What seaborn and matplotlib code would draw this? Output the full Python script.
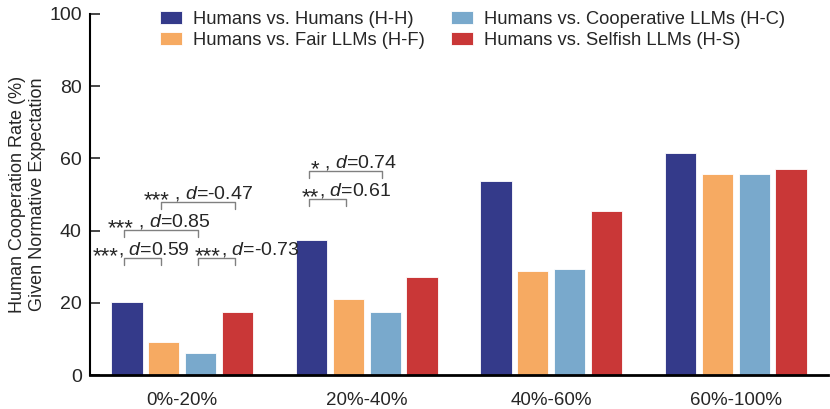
import matplotlib
matplotlib.use("Agg")
import matplotlib.pyplot as plt
import matplotlib.transforms as mtransforms
import seaborn as sns
import pandas as pd

categories = ["0%-20%", "20%-40%", "40%-60%", "60%-100%"]
series = ["Humans vs. Humans (H-H)", "Humans vs. Fair LLMs (H-F)",
          "Humans vs. Cooperative LLMs (H-C)", "Humans vs. Selfish LLMs (H-S)"]
hh = [20.2, 37.4, 53.7, 61.4]
hf = [9.1, 21.0, 28.8, 55.7]
hc = [6.1, 17.5, 29.4, 55.6]
hs = [17.5, 27.1, 45.4, 57.0]
colors = ["#343A8A", "#F6AA62", "#79A9CC", "#C93737"]

# significance annotations: group, bar a, bar b, stars, effect size text
ann_group = [0, 0, 0, 0, 1, 1]
ann_a = [0, 2, 0, 1, 0, 0]
ann_b = [1, 3, 2, 3, 1, 2]
ann_stars = ["***", "***", "***", "***", "**", "*"]
ann_rest = [", $d$=0.59", ", $d$=-0.73", " , $d$=0.85", " , $d$=-0.47", ", $d$=0.61", " , $d$=0.74"]

sns.set_theme(style="white")
plt.rcParams["font.family"] = ["Liberation Sans", "DejaVu Sans"]
plt.rcParams["mathtext.fontset"] = "custom"
plt.rcParams["mathtext.rm"] = "Liberation Sans"
plt.rcParams["mathtext.it"] = "Liberation Sans:italic"

rows = []
for s, vals in zip(series, [hh, hf, hc, hs]):
    for c, v in zip(categories, vals):
        rows.append({"cat": c, "series": s, "val": v})
df = pd.DataFrame(rows)

fig = plt.figure(figsize=(8.3, 4.09), dpi=100)
ax = fig.add_axes([0.1084, 0.0831, 0.8892, 0.8827])
sns.barplot(data=df, x="cat", y="val", hue="series", order=categories,
            hue_order=series, palette=colors, saturation=1, width=0.8, gap=0.15,
            edgecolor="white", linewidth=0.6, ax=ax, errorbar=None)
ax.set_xlim(-0.5, 3.5)
ax.set_ylim(0, 100)
ax.set_yticks([0, 20, 40, 60, 80, 100])
ax.set_xlabel("")
ax.set_ylabel("Human Cooperation Rate (%)\nGiven Normative Expectation", fontsize=13,
              linespacing=1.2)
ax.yaxis.set_label_coords(-0.060, 0.5)
ax.tick_params(axis="y", direction="in", length=7, width=1.2, labelsize=14, left=True, pad=6)
ax.tick_params(axis="x", length=0, labelsize=13.5, pad=12)
for sp in ["top", "right"]:
    ax.spines[sp].set_visible(False)
ax.spines["left"].set_linewidth(1.5)
ax.spines["bottom"].set_linewidth(2)
ax.spines["left"].set_color("black")
ax.spines["bottom"].set_color("black")

# layout of annotations (data coords)
offs = [-0.3, -0.1, 0.1, 0.3]
bracket_y = [32.5, 32.5, 40.2, 47.9, 48.8, 56.5]
text_left = [-0.486, 0.070, -0.405, -0.211, 0.649, 0.697]
star_shift = mtransforms.ScaledTranslation(0, -5.5 / 72, fig.dpi_scale_trans)
for i in range(len(ann_group)):
    g = ann_group[i]
    y = bracket_y[i]
    x1 = g + offs[ann_a[i]] - 0.015
    x2 = g + offs[ann_b[i]] - 0.015
    ax.plot([x1, x1, x2, x2], [y - 2.0, y, y, y - 2.0], color="#808080", lw=1.0,
            clip_on=False)
    ty = y + 0.9
    st = ax.text(text_left[i], ty, ann_stars[i], ha="left", va="baseline", fontsize=16,
                 transform=ax.transData + star_shift)
    ax.annotate(ann_rest[i], xy=(1, ty), xycoords=(st, "data"), ha="left",
                va="baseline", fontsize=14)

leg = ax.legend(ncol=2, frameon=False, loc="upper left", bbox_to_anchor=(0.078, 1.045),
                fontsize=13.2, handlelength=1.2, handleheight=0.77, handletextpad=0.6,
                columnspacing=1.42, labelspacing=0.22, borderpad=0.2)

fig.savefig("out.png", dpi=100)
